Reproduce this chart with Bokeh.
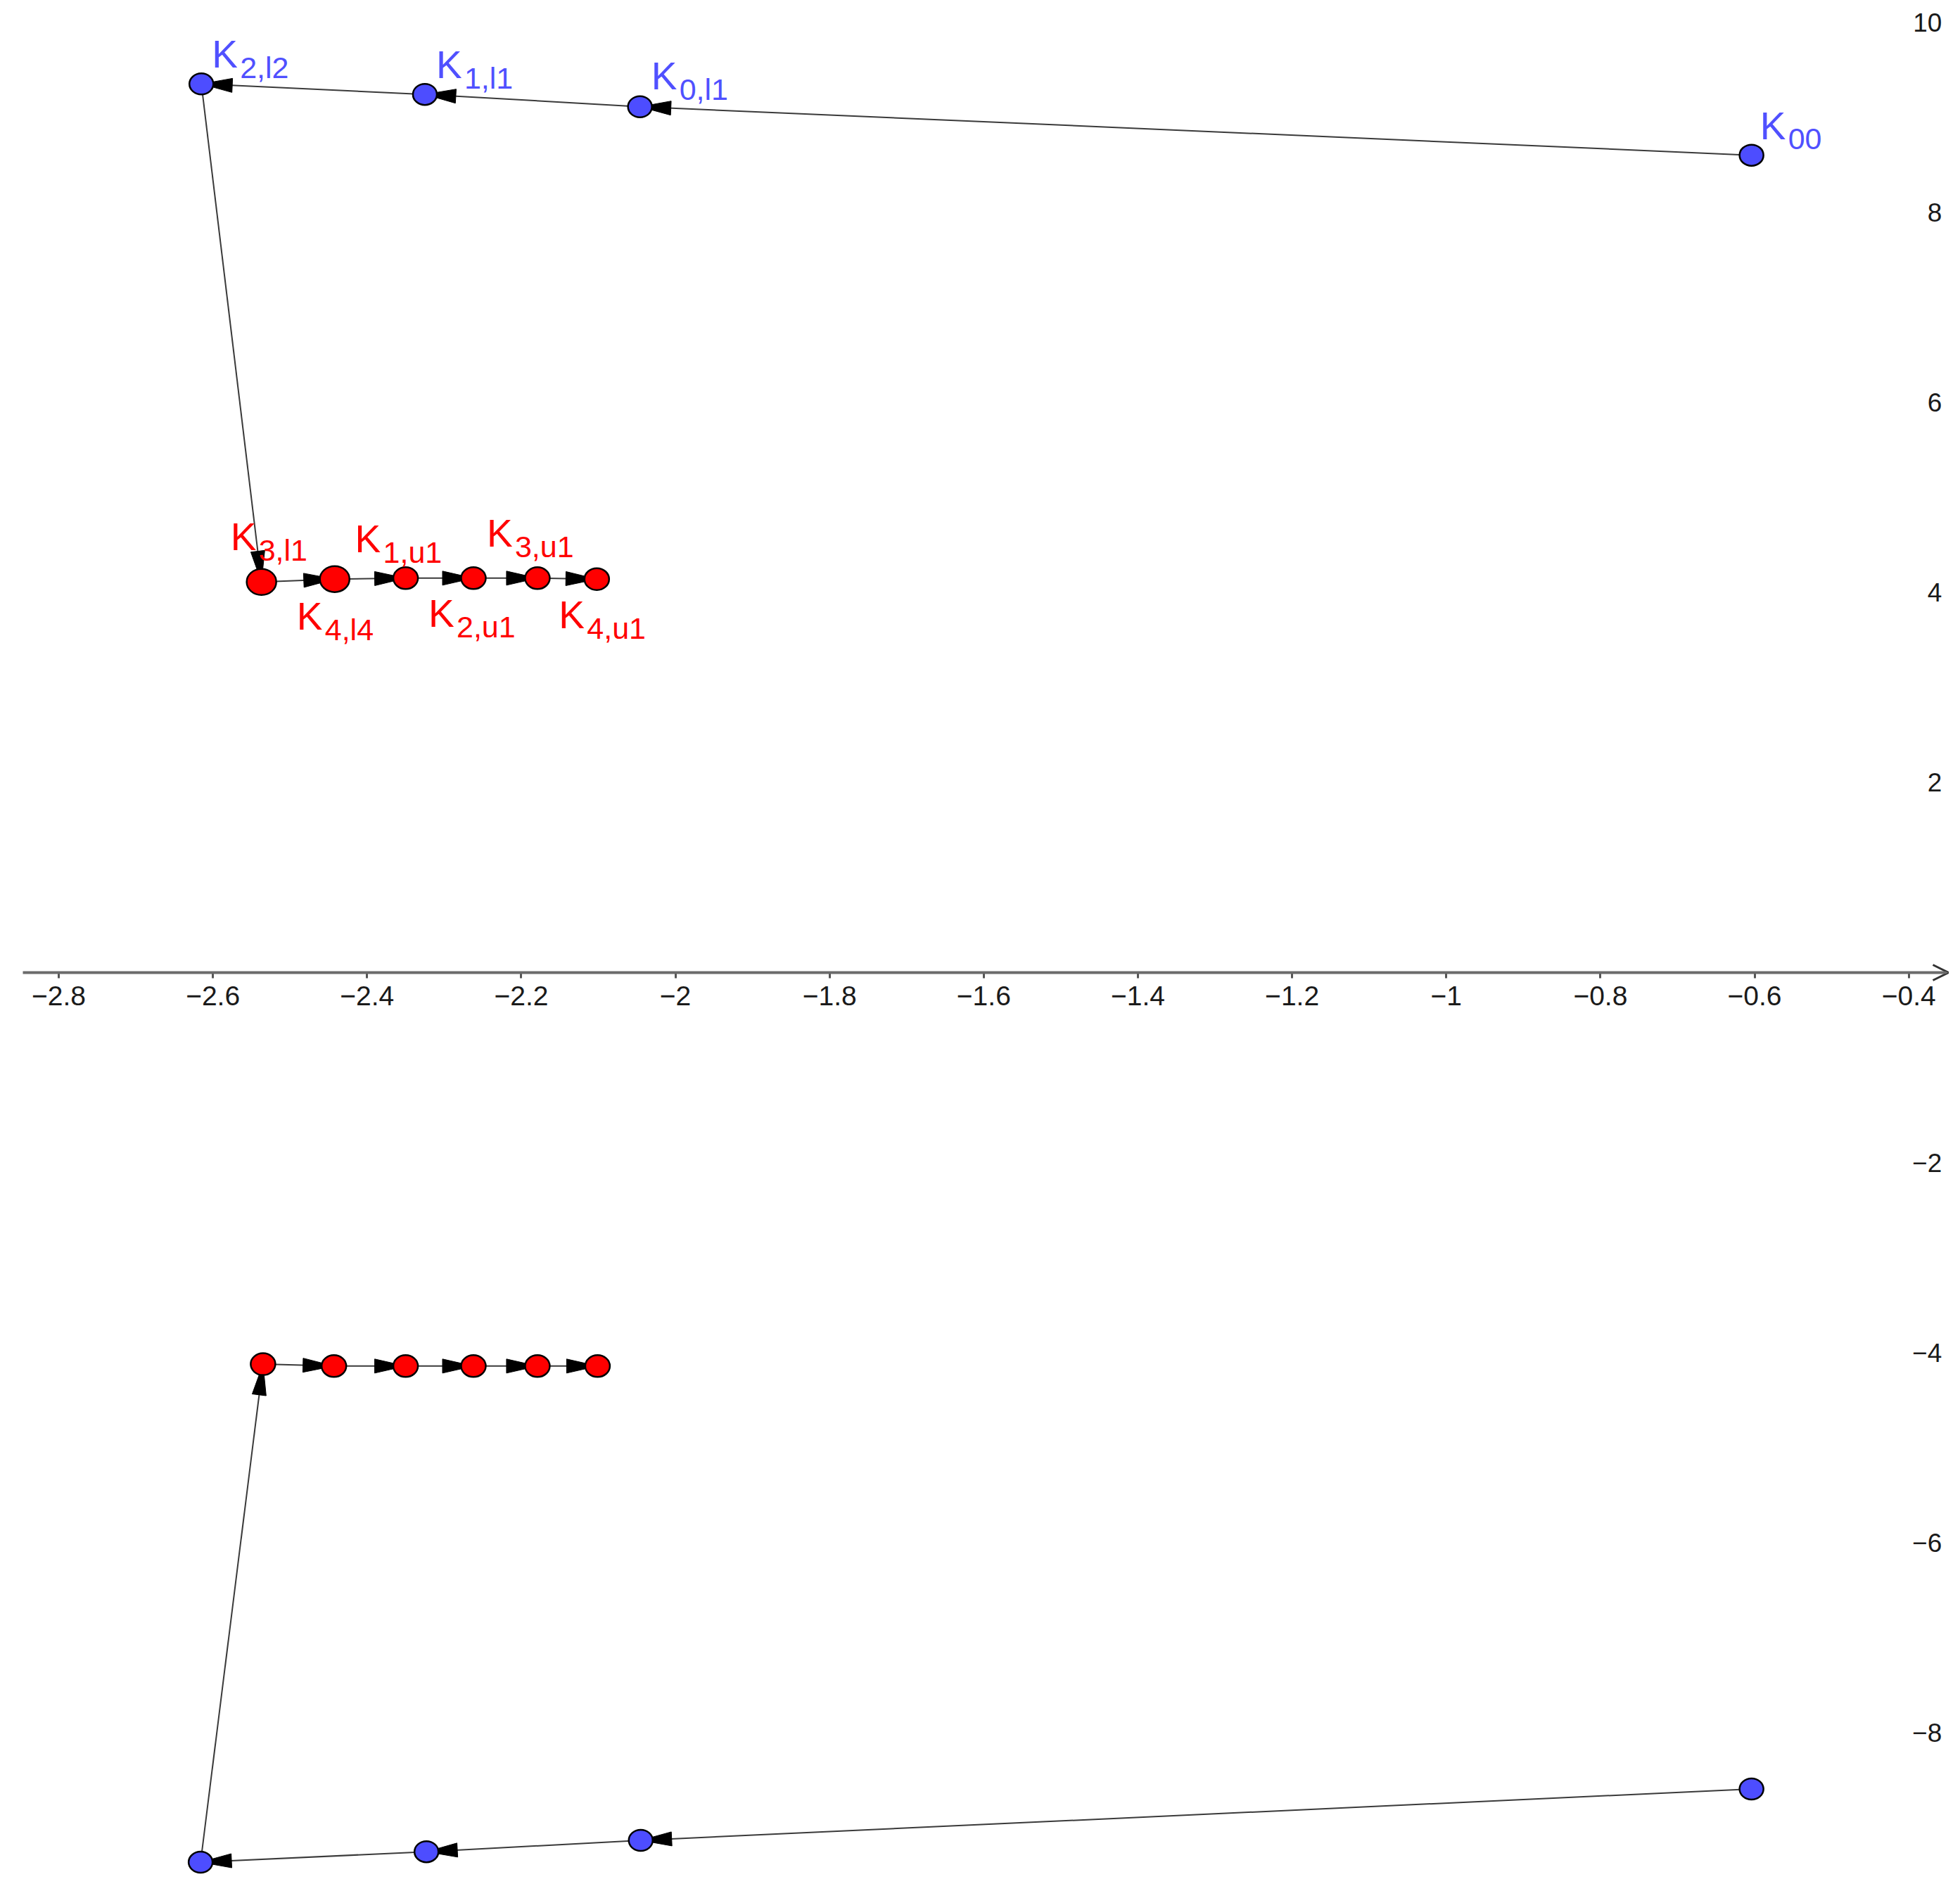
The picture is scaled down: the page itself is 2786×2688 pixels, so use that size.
import numpy as np
from bokeh.plotting import figure
from bokeh.models import Range1d, LinearAxis, FixedTicker, ColumnDataSource, Arrow, OpenHead
from bokeh.core.properties import value
from bokeh.embed import file_html
from bokeh.resources import INLINE

# ---------------- data ----------------
top_blue_names = ["00", "0,l1", "1,l1", "2,l2"]
top_blue_x = [-0.604, -2.046, -2.325, -2.615]
top_blue_y = [8.60, 9.11, 9.24, 9.35]

top_red_names = ["3,l1", "4,l4", "1,u1", "2,u1", "3,u1", "4,u1"]
top_red_x = [-2.537, -2.442, -2.350, -2.262, -2.179, -2.102]
top_red_y = [4.11, 4.14, 4.15, 4.15, 4.15, 4.14]

bottom_blue_x = [-0.604, -2.045, -2.323, -2.616]
bottom_blue_y = [-8.59, -9.13, -9.25, -9.36]

bottom_red_x = [-2.535, -2.443, -2.350, -2.262, -2.179, -2.101]
bottom_red_y = [-4.12, -4.14, -4.14, -4.14, -4.14, -4.14]

x_ticks = [-2.8, -2.6, -2.4, -2.2, -2.0, -1.8, -1.6, -1.4, -1.2, -1.0, -0.8, -0.6, -0.4]
x_tick_labels = ["\u22122.8", "\u22122.6", "\u22122.4", "\u22122.2", "\u22122", "\u22121.8",
                 "\u22121.6", "\u22121.4", "\u22121.2", "\u22121", "\u22120.8", "\u22120.6", "\u22120.4"]
y_ticks = [10, 8, 6, 4, 2, -2, -4, -6, -8]
y_tick_labels = ["10", "8", "6", "4", "2", "\u22122", "\u22124", "\u22126", "\u22128"]

# ---------------- styles ----------------
BLUE = "#4d4dff"
RED = "#ff0000"
W, H = 2770, 2672
PXU_X, PXU_Y = 1095.7, 135.1
X0 = -2.8 - 83 / PXU_X
X1 = X0 + W / PXU_X
Y1 = 1382 / PXU_Y
Y0 = Y1 - H / PXU_Y
SX = W / (X1 - X0)
SY = H / (Y1 - Y0)

blue_w, blue_h = 34, 30
red_w_top = [42, 42, 35, 35, 35, 35]
red_h_top = [37, 37, 31, 31, 31, 31]
red_w, red_h = 35, 31

blue_label_off = [(12, -42), (16, -44), (16, -42), (15, -42)]
red_label_off = [(-44, -64), (-54, 53), (-72, -56), (-64, 50), (-72, -64), (-54, 51)]
SUB_DX, SUB_DY = 40, 19
K_SIZE, SUB_SIZE = "55px", "43px"

p = figure(width=W, height=H, x_range=Range1d(X0, X1), y_range=Range1d(Y0, Y1),
           output_backend="svg", toolbar_location=None,
           x_axis_location=None, y_axis_location=None, min_border=0,
           outline_line_color=None, background_fill_color="white", border_fill_color="white")
p.grid.visible = False

# ---------------- axes ----------------
xaxis = LinearAxis(fixed_location=0, ticker=FixedTicker(ticks=x_ticks),
                   major_label_overrides=dict(zip(x_ticks, x_tick_labels)))
xaxis.axis_line_color = None
xaxis.major_tick_line_color = "#555555"
xaxis.major_tick_line_width = 3
xaxis.major_tick_out = 8
xaxis.major_tick_in = 0
xaxis.minor_tick_line_color = None
xaxis.major_label_text_font = "Liberation Sans"
xaxis.major_label_text_font_size = "39px"
xaxis.major_label_text_color = "#1a1a1a"
xaxis.major_label_standoff = 11
p.add_layout(xaxis, "below")

yaxis = LinearAxis(fixed_location=-0.357, ticker=FixedTicker(ticks=y_ticks),
                   major_label_overrides=dict(zip(y_ticks, y_tick_labels)))
yaxis.axis_line_color = None
yaxis.major_tick_line_color = None
yaxis.minor_tick_line_color = None
yaxis.major_tick_out = 0
yaxis.major_tick_in = 0
yaxis.major_label_standoff = 0
yaxis.major_label_text_font = "Liberation Sans"
yaxis.major_label_text_font_size = "37px"
yaxis.major_label_text_color = "#1a1a1a"
p.add_layout(yaxis, "left")

p.add_layout(Arrow(x_start=X0 + 32 / SX, y_start=0, x_end=X1 - 1 / SX, y_end=0,
                   line_color="#6b6b6b", line_width=4,
                   end=OpenHead(size=22, line_width=3, line_color="#333333")))

# ---------------- chains ----------------
def edges(xs, ys):
    xs, ys = np.asarray(xs, float), np.asarray(ys, float)
    return xs[:-1], ys[:-1], xs[1:], ys[1:]

def heads(xa, ya, xb, yb, L=44.0, Wd=20.0):
    dxs = (xb - xa) * SX
    dys = (yb - ya) * SY
    n = np.hypot(dxs, dys)
    ux, uy = dxs / n, dys / n
    px, py = -uy, ux
    hx, hy = [], []
    for i in range(len(xb)):
        bx, by = -L * ux[i], -L * uy[i]
        hx.append([xb[i], xb[i] + (bx + Wd / 2 * px[i]) / SX, xb[i] + (bx - Wd / 2 * px[i]) / SX])
        hy.append([yb[i], yb[i] + (by + Wd / 2 * py[i]) / SY, yb[i] + (by - Wd / 2 * py[i]) / SY])
    return hx, hy

for bx_, by_, rx_, ry_ in [(top_blue_x, top_blue_y, top_red_x, top_red_y),
                           (bottom_blue_x, bottom_blue_y, bottom_red_x, bottom_red_y)]:
    xa, ya, xb, yb = edges(list(bx_) + list(rx_), list(by_) + list(ry_))
    p.segment(x0=xa, y0=ya, x1=xb, y1=yb, line_color="#3a3a3a", line_width=2)
    hx, hy = heads(xa, ya, xb, yb)
    p.patches(hx, hy, fill_color="black", line_color="black", line_width=1)

# ---------------- points ----------------
p.ellipse(x=top_blue_x + bottom_blue_x, y=top_blue_y + bottom_blue_y,
          width=blue_w, height=blue_h, width_units="screen", height_units="screen",
          fill_color=BLUE, line_color="black", line_width=2.5)
p.ellipse(x=top_red_x, y=top_red_y, width=red_w_top, height=red_h_top,
          width_units="screen", height_units="screen",
          fill_color=RED, line_color="black", line_width=2.5)
p.ellipse(x=bottom_red_x, y=bottom_red_y, width=red_w, height=red_h,
          width_units="screen", height_units="screen",
          fill_color=RED, line_color="black", line_width=2.5)

# ---------------- labels ----------------
def add_labels(xs, ys, names, offs, color):
    src = ColumnDataSource(dict(
        x=xs, y=ys, k=["K"] * len(xs), sub=names,
        kdx=[o[0] for o in offs], kdy=[o[1] for o in offs],
        sdx=[o[0] + SUB_DX for o in offs], sdy=[o[1] + SUB_DY for o in offs]))
    p.text(x="x", y="y", text="k", x_offset="kdx", y_offset="kdy", source=src,
           text_font=value("Liberation Sans"), text_font_size=value(K_SIZE),
           text_color=color, text_align="left", text_baseline="alphabetic")
    p.text(x="x", y="y", text="sub", x_offset="sdx", y_offset="sdy", source=src,
           text_font=value("Liberation Sans"), text_font_size=value(SUB_SIZE),
           text_color=color, text_align="left", text_baseline="alphabetic")

add_labels(top_blue_x, top_blue_y, top_blue_names, blue_label_off, "#5050ff")
add_labels(top_red_x, top_red_y, top_red_names, red_label_off, RED)

open("out.html", "w").write(file_html(p, INLINE))
